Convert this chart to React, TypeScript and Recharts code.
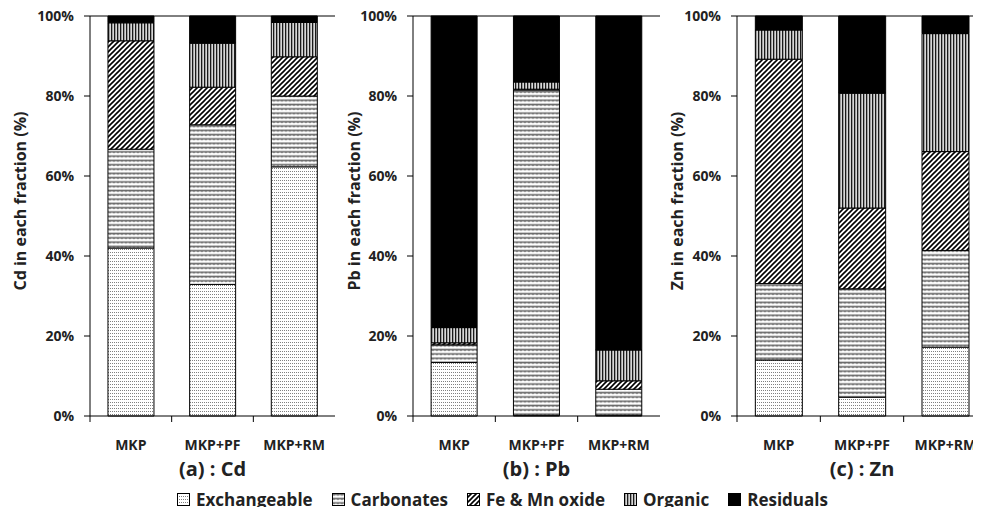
import React from 'react';
import { BarChart, Bar, XAxis, YAxis, ReferenceLine } from 'recharts';

const categories = ['MKP', 'MKP+PF', 'MKP+RM'];
const fractions = ['Exchangeable', 'Carbonates', 'Fe & Mn oxide', 'Organic', 'Residuals'];
const yTicks = [0, 0.2, 0.4, 0.6, 0.8, 1];

// each row is one fraction, columns follow categories (% of total)
const cdShares = [
  [42.0, 32.9, 62.3],
  [24.7, 39.9, 17.7],
  [27.1, 9.4, 9.8],
  [4.5, 11.0, 8.6],
  [1.7, 6.8, 1.6],
];
const pbShares = [
  [13.4, 0.2, 0.2],
  [4.4, 81.3, 6.5],
  [0.5, 0.2, 2.1],
  [3.8, 1.8, 7.7],
  [77.9, 16.5, 83.5],
];
const znShares = [
  [14.0, 4.7, 17.2],
  [19.1, 27.1, 24.2],
  [56.1, 20.2, 24.7],
  [7.3, 28.7, 29.5],
  [3.5, 19.3, 4.4],
];

const fills = ['url(#patExch)', 'url(#patCarb)', 'url(#patFeMn)', 'url(#patOrg)', '#000'];
const textColor = '#222';

const toRows = (shares: number[][]) =>
  categories.map((name, c) => {
    const row: { [k: string]: string | number } = { name };
    fractions.forEach((f, i) => {
      row[f] = shares[i][c];
    });
    return row;
  });

const Patterns = () => (
  <svg width={0} height={0} style={{ position: 'absolute' }}>
    <defs>
      <pattern id="patExch" patternUnits="userSpaceOnUse" width={2} height={3}>
        <rect width={2} height={3} fill="#fff" />
        <rect x={0} y={0} width={1} height={1} fill="#808080" />
      </pattern>
      <pattern id="patCarb" patternUnits="userSpaceOnUse" width={4} height={4.3}>
        <rect width={4} height={4.3} fill="#fff" />
        <path d="M0 2 L1 1 L2 2 L3 1 L4 2" stroke="#6a6a6a" strokeWidth={1.3} fill="none" />
      </pattern>
      <pattern id="patFeMn" patternUnits="userSpaceOnUse" width={5} height={5}>
        <rect width={5} height={5} fill="#fff" />
        <path d="M-1 1 L1 -1 M0 5 L5 0 M4 6 L6 4" stroke="#000" strokeWidth={1.6} />
      </pattern>
      <pattern id="patOrg" patternUnits="userSpaceOnUse" width={3} height={3}>
        <rect width={3} height={3} fill="#d8d8d8" />
        <rect x={0} y={0} width={1.3} height={3} fill="#1a1a1a" />
      </pattern>
    </defs>
  </svg>
);

const CategoryTick = (props: any) => {
  const { x, y, payload } = props;
  const half = payload && payload.offset ? payload.offset : 41;
  return (
    <g>
      <line x1={x - half} x2={x - half} y1={y} y2={y + 6} stroke="#000" />
      <text x={x} y={y + 28} textAnchor="middle" dominantBaseline="central" fontSize={14} fontWeight={700} fill={textColor}>
        {payload.value}
      </text>
    </g>
  );
};

const yTitle = (text: string, gap: number) => (props: any) => {
  const vb = props.viewBox || { x: 0, y: 16, width: 90, height: 400 };
  const cx = vb.x + vb.width - gap;
  const cy = vb.y + vb.height / 2 - 15;
  return (
    <text x={cx} y={cy} transform={`rotate(-90, ${cx}, ${cy})`} textAnchor="middle" dominantBaseline="central" fontSize={16} fontWeight={700} fill={textColor}>
      {text}
    </text>
  );
};

interface PanelProps {
  shares: number[][];
  metal: string;
  title: string;
  left: number;
  width: number;
  titleGap: number;
}

const Panel: React.FC<PanelProps> = ({ shares, metal, title, left, width, titleGap }) => (
  <div style={{ position: 'absolute', left, top: 0 }}>
    <BarChart
      width={width}
      height={485}
      data={toRows(shares)}
      margin={{ top: 16, right: 5, left: 0, bottom: 0 }}
      stackOffset="expand"
      barCategoryGap="22%"
    >
      <XAxis
        dataKey="name"
        height={69}
        interval={0}
        tickSize={0}
        tickMargin={0}
        tickLine={false}
        axisLine={{ stroke: '#000' }}
        tick={<CategoryTick />}
        label={{ value: title, position: 'insideBottom', offset: 9, fontSize: 20, fontWeight: 700, fill: textColor }}
      />
      <YAxis
        width={90}
        domain={[0, 1]}
        ticks={yTicks}
        tickFormatter={(v: number) => `${Math.round(v * 100)}%`}
        tickSize={6}
        tickMargin={10}
        axisLine={{ stroke: '#000' }}
        tickLine={{ stroke: '#000' }}
        tick={{ fontSize: 14, fontWeight: 700, fill: textColor }}
        label={yTitle(`${metal} in each fraction (%)`, titleGap)}
      />
      <YAxis
        yAxisId="frame"
        orientation="right"
        width={0}
        domain={[0, 1]}
        tick={false}
        tickLine={false}
        axisLine={{ stroke: '#000' }}
      />
      <ReferenceLine y={1} stroke="#000" />
      {fractions.map((f, i) => (
        <Bar key={f} dataKey={f} stackId="a" fill={fills[i]} stroke="#000" strokeWidth={1} isAnimationActive={false} />
      ))}
    </BarChart>
  </div>
);

const LegendRow = () => (
  <div
    style={{
      position: 'absolute',
      top: 488,
      left: 177,
      display: 'flex',
      alignItems: 'center',
      fontSize: 17,
      fontWeight: 700,
      color: textColor,
      whiteSpace: 'nowrap',
    }}
  >
    {fractions.map((f, i) => (
      <div key={f} style={{ display: 'flex', alignItems: 'center', marginRight: 19 }}>
        <svg width={13} height={13} style={{ marginRight: 6 }}>
          <rect x={0.5} y={0.5} width={12} height={12} fill={fills[i]} stroke="#000" />
        </svg>
        <span>{f}</span>
      </div>
    ))}
  </div>
);

export default function App() {
  return (
    <div
      style={{
        position: 'relative',
        width: 981,
        height: 515,
        margin: -8,
        overflow: 'hidden',
        background: '#fff',
        fontFamily: '"Open Sans", sans-serif',
      }}
    >
      <Patterns />
      <Panel shares={cdShares} metal="Cd" title="(a) : Cd" left={0} width={340} titleGap={70} />
      <Panel shares={pbShares} metal="Pb" title="(b) : Pb" left={323} width={342} titleGap={59} />
      <Panel shares={znShares} metal="Zn" title="(c) : Zn" left={647} width={345} titleGap={60} />
      <LegendRow />
    </div>
  );
}
